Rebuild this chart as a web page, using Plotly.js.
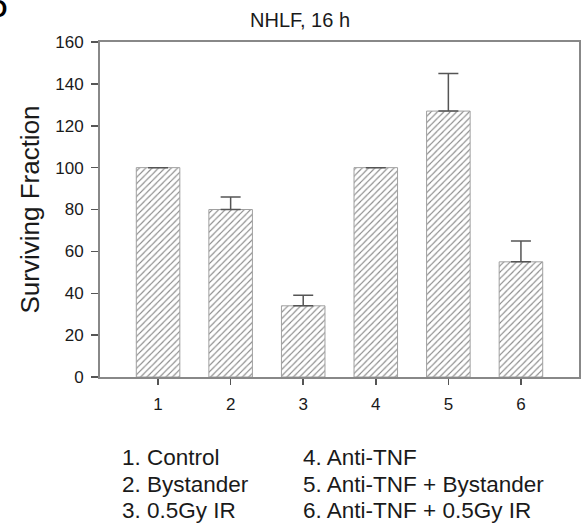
<!DOCTYPE html>
<html>
<head>
<meta charset="utf-8">
<script src="https://cdn.plot.ly/plotly-3.0.1.min.js"></script>
<style>html,body{margin:0;padding:0;background:#fff;}#chart{width:588px;height:527px;}</style>
</head>
<body>
<div id="chart"></div>
<script>
const categories = [1, 2, 3, 4, 5, 6];
const survivingFraction = [100, 80, 34, 100, 127, 55];
const errorPlus = [0, 6, 5, 0, 18, 10];
const legendLeft = ["1. Control", "2. Bystander", "3. 0.5Gy IR"];
const legendRight = ["4. Anti-TNF", "5. Anti-TNF + Bystander", "6. Anti-TNF + 0.5Gy IR"];
const chartTitle = "NHLF, 16 h";
const yTitle = "Surviving Fraction";
const yTicks = [0, 20, 40, 60, 80, 100, 120, 140, 160];

const font = "Liberation Sans, Arial, sans-serif";
const textColor = "#1a1a1a";

const trace = {
  type: "bar",
  x: categories,
  y: survivingFraction,
  width: 0.6,
  marker: {
    color: "#ffffff",
    line: {color: "#a0a0a0", width: 1},
    pattern: {shape: "/", fgcolor: "#888888", bgcolor: "#ffffff", size: 4.5, solidity: 0.25}
  },
  error_y: {
    type: "data", symmetric: false,
    array: errorPlus,
    arrayminus: categories.map(() => 0),
    color: "#555555", thickness: 1.5, width: 10
  },
  hoverinfo: "none"
};

const annotations = [];
annotations.push({text: chartTitle, xref: "paper", yref: "paper", x: (300-100)/479, y: (377-20)/335,
  xanchor: "center", yanchor: "middle", showarrow: false, font: {family: font, size: 20, color: textColor}});
annotations.push({text: "<b>D</b>", xref: "paper", yref: "paper", x: (9-100)/479, y: (377-8)/335,
  xanchor: "right", yanchor: "middle", showarrow: false, font: {family: font, size: 24, color: "#000"}});
const rows = [457, 484, 510];
legendLeft.forEach((t, i) => annotations.push({text: t, xref: "paper", yref: "paper",
  x: (120-100)/479, y: (377-rows[i])/335, xanchor: "left", yanchor: "middle", showarrow: false,
  font: {family: font, size: 22.5, color: textColor}}));
legendRight.forEach((t, i) => annotations.push({text: t, xref: "paper", yref: "paper",
  x: (301-100)/479, y: (377-rows[i])/335, xanchor: "left", yanchor: "middle", showarrow: false,
  font: {family: font, size: 22.5, color: textColor}}));

const layout = {
  width: 588, height: 527,
  margin: {l: 100, r: 9, t: 42, b: 150, pad: 0},
  paper_bgcolor: "#ffffff", plot_bgcolor: "#ffffff",
  showlegend: false,
  font: {family: font, color: textColor},
  xaxis: {
    range: [0.2, 6.8], tickvals: categories, ticktext: categories.map(String),
    ticks: "outside", ticklen: 6, tickwidth: 1.5, tickcolor: "#555",
    showline: true, linecolor: "#888888", linewidth: 2, mirror: true,
    showgrid: false, zeroline: false, fixedrange: true,
    tickfont: {family: font, size: 17, color: textColor}, ticklabelstandoff: 5
  },
  yaxis: {
    range: [0, 160], tickvals: yTicks,
    ticks: "outside", ticklen: 7, tickwidth: 1.5, tickcolor: "#555",
    showline: true, linecolor: "#888888", linewidth: 2, mirror: true,
    showgrid: false, zeroline: false, fixedrange: true,
    tickfont: {family: font, size: 17, color: textColor}, ticklabelstandoff: 4,
    title: {text: yTitle, font: {family: font, size: 26, color: textColor}, standoff: 8}
  },
  annotations: annotations
};

Plotly.newPlot("chart", [trace], layout, {displayModeBar: false, staticPlot: true});
</script>
</body>
</html>
